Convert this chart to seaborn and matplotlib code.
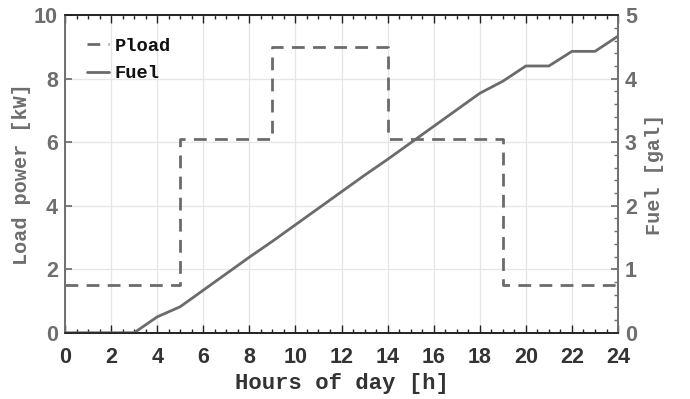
import numpy as np
import pandas as pd
import seaborn as sns
import matplotlib
matplotlib.use('Agg')
import matplotlib.pyplot as plt
from matplotlib.ticker import MultipleLocator

# data
load_hours = [0, 5, 9, 14, 19, 24]
load_kw = [1.5, 6.1, 9.0, 6.1, 1.5, 1.5]

fuel_hours = list(range(25))
fuel_gal = [0, 0, 0, 0, 0.25, 0.41, 0.67, 0.93, 1.19, 1.44, 1.70, 1.96, 2.22,
            2.48, 2.73, 2.99, 3.25, 3.51, 3.77, 3.96, 4.20, 4.20, 4.43, 4.43, 4.67]

sns.set_theme(style="whitegrid")
plt.rcParams['font.family'] = ['Liberation Sans Narrow', 'Liberation Sans', 'DejaVu Sans']

line_col = '#6b6b6e'
txt_col = '#6e6e6e'
mono = ['Liberation Mono', 'DejaVu Sans Mono']

fig = plt.figure(figsize=(6.9, 3.99), dpi=100)
ax = fig.add_axes([0.0942, 0.166, 0.8015, 0.796])
ax2 = ax.twinx()

df_load = pd.DataFrame({'h': load_hours, 'p': load_kw})
df_fuel = pd.DataFrame({'h': fuel_hours, 'f': fuel_gal})

sns.lineplot(data=df_load, x='h', y='p', ax=ax, color=line_col, lw=2.0,
             drawstyle='steps-post', linestyle=(0, (4.6, 3.0)), label='Pload', legend=False)
sns.lineplot(data=df_fuel, x='h', y='f', ax=ax2, color=line_col, lw=2.0,
             label='Fuel', legend=False)

ax.set_xlim(0, 24)
ax.set_ylim(0, 10)
ax2.set_ylim(0, 5)
ax.xaxis.set_major_locator(MultipleLocator(2))
ax.xaxis.set_minor_locator(MultipleLocator(0.5))
ax.yaxis.set_major_locator(MultipleLocator(2))
ax2.yaxis.set_major_locator(MultipleLocator(1))
ax2.yaxis.set_minor_locator(MultipleLocator(0.2))

ax.grid(True, color='#e6e6e6', lw=0.9)
ax2.grid(False)
ax.set_facecolor('white')

ax.tick_params(axis='x', which='both', direction='in', top=True, bottom=True,
               colors='#222222', labelcolor='#333333', width=1.0)
ax.tick_params(axis='x', which='major', length=6, pad=10)
ax.tick_params(axis='x', which='minor', length=3)
ax.tick_params(axis='y', which='major', direction='in', length=5, colors=txt_col, pad=5)
ax2.tick_params(axis='y', which='major', direction='in', length=5, colors=txt_col, pad=5)
ax2.tick_params(axis='y', which='minor', direction='in', length=3, colors=txt_col)
for lab in ax.get_xticklabels() + ax.get_yticklabels() + ax2.get_yticklabels():
    lab.set_fontsize(15.5)
    lab.set_fontweight('bold')

for a in (ax, ax2):
    a.spines['bottom'].set_color('#222222')
    a.spines['top'].set_color('#222222')
    a.spines['left'].set_color(txt_col)
    a.spines['right'].set_color(txt_col)
    for s in a.spines.values():
        s.set_linewidth(1.2)

ax.set_xlabel('Hours of day [h]', family=mono, fontweight='bold', fontsize=16,
              color='#333333', labelpad=4)
ax.set_ylabel('Load power [kW]', family=mono, fontweight='bold', fontsize=14.5,
              color=txt_col, labelpad=2)
ax2.set_ylabel('Fuel [gal]', family=mono, fontweight='bold', fontsize=14.5,
               color=txt_col, labelpad=6)

h1, l1 = ax.get_legend_handles_labels()
h2, l2 = ax2.get_legend_handles_labels()
leg = ax.legend(h1 + h2, l1 + l2, loc='upper left', frameon=False,
                prop={'family': mono, 'weight': 'bold', 'size': 13.5},
                handlelength=1.15, handletextpad=0.3, borderaxespad=0.8,
                labelspacing=0.55)
for t in leg.get_texts():
    t.set_color('#111111')

ax.set_zorder(0)
ax2.set_zorder(1)
ax2.patch.set_visible(False)

fig.savefig('out.png', dpi=100)
